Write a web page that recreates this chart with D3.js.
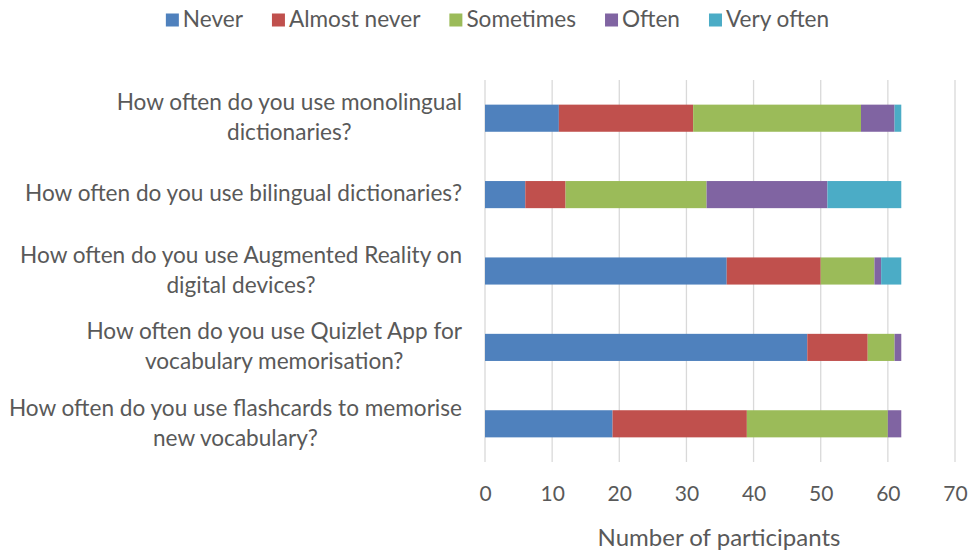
<!DOCTYPE html>
<html>
<head>
<meta charset="utf-8">
<script src="https://cdn.jsdelivr.net/npm/d3@7"></script>
<style>
  html, body { margin: 0; padding: 0; background: #fff; }
  svg { display: block; }
  text { font-family: Lato, "Liberation Sans", sans-serif; fill: #595959; }
</style>
</head>
<body>
<svg id="chart" width="972" height="557"></svg>
<script>
// Survey questions (line breaks mark how each label wraps)
const questions = [
  "How often do you use monolingual\ndictionaries?",
  "How often do you use bilingual dictionaries?",
  "How often do you use Augmented Reality on\ndigital devices?",
  "How often do you use Quizlet App for\nvocabulary memorisation?",
  "How often do you use flashcards to memorise\nnew vocabulary?"
];
const responses = ["Never", "Almost never", "Sometimes", "Often", "Very often"];

// Number of participants per response, one value per question
const never       = [11, 6, 36, 48, 19];
const almostNever = [20, 6, 14, 9, 20];
const sometimes   = [25, 21, 8, 4, 21];
const often       = [5, 18, 1, 1, 2];
const veryOften   = [1, 11, 3, 0, 0];

const xTicks = [0, 10, 20, 30, 40, 50, 60, 70];
const colors = ["#4F81BD", "#C0504D", "#9BBB59", "#8064A2", "#4BACC6"];

const seriesValues = [never, almostNever, sometimes, often, veryOften];
const rows = questions.map((q, i) => {
  const r = { question: q };
  responses.forEach((k, j) => { r[k] = seriesValues[j][i]; });
  return r;
});
const stacked = d3.stack().keys(responses)(rows);

const svg = d3.select("#chart");
const plot = { left: 485, right: 955, top: 80, bottom: 462 };

const x = d3.scaleLinear().domain([0, 70]).range([plot.left, plot.right]);
const y = d3.scaleBand().domain(questions)
  .range([plot.top, plot.bottom])
  .paddingInner(0.645).paddingOuter(0.3225);
const color = d3.scaleOrdinal().domain(responses).range(colors);

// Vertical gridlines
svg.append("g").selectAll("line").data(xTicks).join("line")
  .attr("x1", d => x(d)).attr("x2", d => x(d))
  .attr("y1", plot.top).attr("y2", plot.bottom)
  .attr("stroke", "#D9D9D9").attr("stroke-width", 1.3);

// Stacked bars
svg.append("g").selectAll("g").data(stacked).join("g")
  .attr("fill", d => color(d.key))
  .selectAll("rect").data(d => d).join("rect")
  .attr("x", d => x(d[0]))
  .attr("width", d => x(d[1]) - x(d[0]))
  .attr("y", d => y(d.data.question))
  .attr("height", y.bandwidth());

// X axis tick labels
const xAxis = svg.append("g")
  .attr("transform", `translate(0,${plot.bottom + 24})`)
  .call(d3.axisBottom(x).tickValues(xTicks).tickSize(0).tickPadding(0));
xAxis.select(".domain").remove();
xAxis.selectAll("text")
  .attr("font-size", 21).attr("dy", "0.71em")
  .style("font-family", "Lato, 'Liberation Sans', sans-serif")
  .attr("fill", "#595959");

// Axis title
svg.append("text")
  .attr("x", 719).attr("y", 540)
  .attr("text-anchor", "middle").attr("dominant-baseline", "middle")
  .attr("font-size", 24)
  .text("Number of participants");

// Category labels: centred block, right edge aligned near the plot
const labelRight = 462;
const lineGap = 30;
const labelG = svg.append("g");
questions.forEach(q => {
  const lines = q.split("\n");
  const g = labelG.append("g");
  const cy = y(q) + y.bandwidth() / 2;
  const texts = lines.map((ln, i) => g.append("text")
    .attr("font-size", 22.6)
    .attr("text-anchor", "middle")
    .attr("dominant-baseline", "middle")
    .attr("y", cy + 1 + (i - (lines.length - 1) / 2) * lineGap)
    .text(ln));
  const w = d3.max(texts, t => t.node().getComputedTextLength());
  texts.forEach(t => t.attr("x", labelRight - w / 2));
});

// Legend
const legend = svg.append("g");
let lx = 0;
responses.forEach(k => {
  const g = legend.append("g").attr("transform", `translate(${lx},0)`);
  g.append("rect").attr("x", 0).attr("y", -6.5).attr("width", 13).attr("height", 13)
    .attr("fill", color(k));
  const t = g.append("text").attr("x", 17).attr("y", 1)
    .attr("dominant-baseline", "middle").attr("font-size", 22.6).text(k);
  lx += 17 + t.node().getComputedTextLength() + 29;
});
const legendWidth = lx - 29;
legend.attr("transform", `translate(${497.5 - legendWidth / 2},20)`);
</script>
</body>
</html>
